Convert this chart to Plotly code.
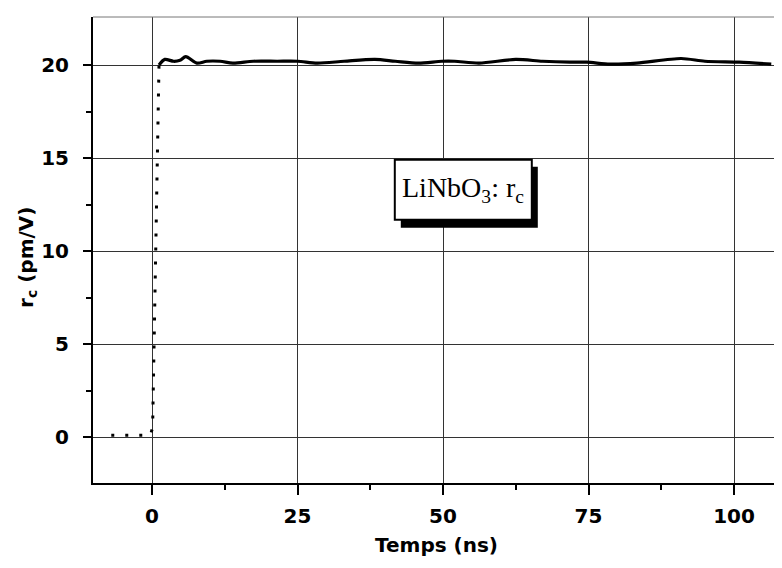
import plotly.graph_objects as go

# Rising edge (dotted part of the record)
rise_t = [-7.0, -0.3, 0.1, 0.4, 0.7, 1.0, 1.2]
rise_r = [0.1, 0.1, 0.5, 6.0, 12.0, 17.5, 20.0]

# Plateau (solid part of the record)
plat_t = [1.2, 2.2, 3.7, 4.8, 5.8, 7.7, 9.4, 11.7, 13.9, 17.4, 21.5, 25.0, 28.4,
          33.0, 38.3, 41.8, 45.8, 49.8, 52.0, 56.2, 62.5, 67.1, 71.8, 74.7, 78.7,
          83.3, 90.9, 95.0, 100.9, 106.4]
plat_r = [20.0, 20.3, 20.2, 20.25, 20.45, 20.1, 20.2, 20.2, 20.1, 20.2, 20.2, 20.2,
          20.1, 20.2, 20.3, 20.2, 20.1, 20.2, 20.2, 20.1, 20.3, 20.2, 20.15, 20.15,
          20.05, 20.1, 20.35, 20.2, 20.15, 20.05]

x_ticks = [0, 25, 50, 75, 100]
y_ticks = [0, 5, 10, 15, 20]
x_minor = [12.5, 37.5, 62.5, 87.5]
y_minor = [2.5, 7.5, 12.5, 17.5]

label_text = "LiNbO<sub>3</sub>: r<sub>c</sub>"
label_x, label_y = 53.4, 13.3

fig = go.Figure()
fig.add_trace(go.Scatter(x=rise_t, y=rise_r, mode="lines",
                         line=dict(color="black", width=3, dash="3px,11px"),
                         showlegend=False, hoverinfo="skip"))
fig.add_trace(go.Scatter(x=plat_t, y=plat_r, mode="lines",
                         line=dict(color="black", width=3.2, shape="spline", smoothing=0.8),
                         showlegend=False, hoverinfo="skip"))

# label box: drop shadow + white framed box, sized in pixels around the label anchor
fig.add_shape(type="rect", xref="x", yref="y", xsizemode="pixel", ysizemode="pixel",
              xanchor=label_x, yanchor=label_y, x0=-62, x1=75, y0=23, y1=-38,
              fillcolor="black", line=dict(width=0), layer="above")
fig.add_shape(type="rect", xref="x", yref="y", xsizemode="pixel", ysizemode="pixel",
              xanchor=label_x, yanchor=label_y, x0=-68, x1=69, y0=30, y1=-30,
              fillcolor="white", line=dict(color="black", width=2), layer="above")

serif = "Liberation Serif, Times New Roman, serif"
fig.add_annotation(x=label_x, y=label_y, xref="x", yref="y", text=label_text,
                   showarrow=False, font=dict(family=serif, size=28, color="black"))

# thin top frame line
fig.add_shape(type="line", xref="paper", yref="paper", x0=0, x1=1, y0=1, y1=1,
              line=dict(color="#777777", width=1))

sans = "DejaVu Sans, Liberation Sans, Arial, sans-serif"
tfont = dict(family=sans, size=20, color="black", weight="bold")

fig.add_annotation(xref="paper", yref="paper", x=0.505, y=0, yanchor="middle",
                   yshift=-62, text="Temps (ns)", showarrow=False, font=tfont)
fig.add_annotation(xref="paper", yref="paper", x=0, y=0.483, xanchor="center",
                   xshift=-66, textangle=-90,
                   text="r<sub>c</sub> (pm/V)", showarrow=False, font=tfont)

fig.update_xaxes(range=[-10.14, 106.87], tickvals=x_ticks, ticktext=[str(v) for v in x_ticks],
                 showgrid=True, gridcolor="#333333", gridwidth=1, zeroline=False,
                 showline=True, linecolor="black", linewidth=2, automargin=False,
                 ticks="outside", ticklen=10, tickwidth=1.5, tickcolor="black",
                 ticklabelstandoff=4,
                 minor=dict(tickvals=x_minor, ticks="outside", ticklen=5,
                            tickwidth=1.5, tickcolor="black", showgrid=False),
                 tickfont=tfont)
fig.update_yaxes(range=[-2.47, 22.58], tickvals=y_ticks, ticktext=[str(v) for v in y_ticks],
                 showgrid=True, gridcolor="#333333", gridwidth=1, zeroline=False,
                 showline=True, linecolor="black", linewidth=2, automargin=False,
                 ticks="outside", ticklen=8, tickwidth=1.5, tickcolor="black",
                 ticklabelstandoff=10,
                 minor=dict(tickvals=y_minor, ticks="outside", ticklen=5,
                            tickwidth=1.5, tickcolor="black", showgrid=False),
                 tickfont=tfont)
fig.update_layout(width=766, height=552, margin=dict(l=85, r=0, t=9, b=77, autoexpand=False),
                  plot_bgcolor="white", paper_bgcolor="white")
fig.write_html("out.html")
